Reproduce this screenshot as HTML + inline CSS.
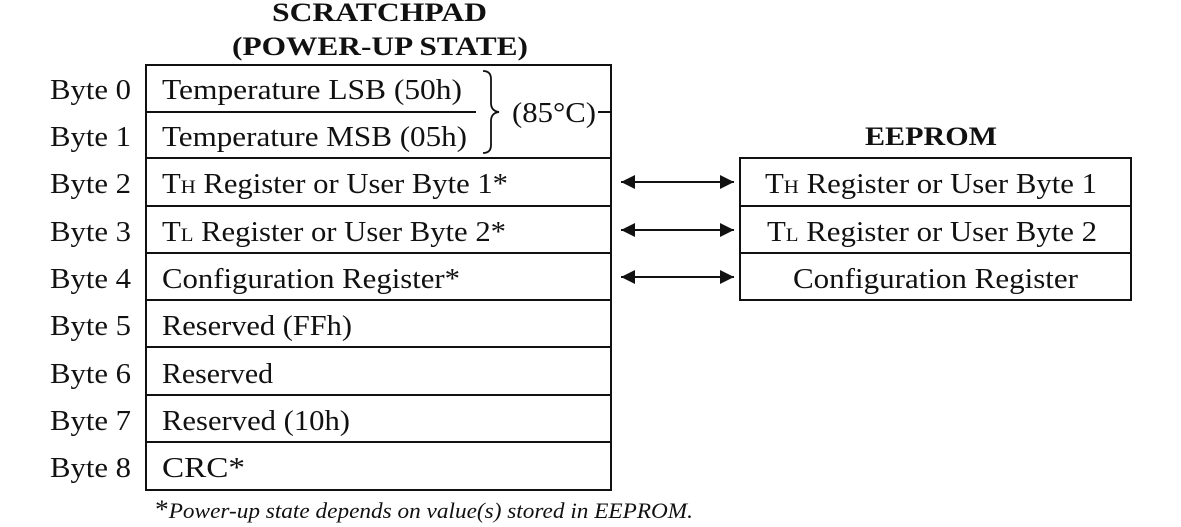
<!DOCTYPE html>
<html><head><meta charset="utf-8"><style>
html,body{margin:0;padding:0;background:#fff}
svg{display:block}
text{font-family:"Liberation Serif",serif;fill:#111}
</style></head><body>
<svg width="1181" height="527" viewBox="0 0 1181 527">
<defs><marker id="ah" viewBox="0 0 10 10" refX="10" refY="5" markerWidth="7" markerHeight="7" orient="auto-start-reverse"><path d="M0,0 L10,5 L0,10 z" fill="#111"/></marker></defs>
<g font-size="26">
<text x="272" y="21" font-weight="bold" textLength="215" lengthAdjust="spacingAndGlyphs">SCRATCHPAD</text>
<text x="232" y="55" font-weight="bold" textLength="296" lengthAdjust="spacingAndGlyphs">(POWER-UP STATE)</text>
</g>
<g stroke="#111" stroke-width="2" fill="none">
<rect x="146" y="65" width="465" height="425"/>
<line x1="146" y1="112" x2="476" y2="112"/>
<line x1="146" y1="158" x2="611" y2="158"/>
<line x1="146" y1="206" x2="611" y2="206"/>
<line x1="146" y1="253" x2="611" y2="253"/>
<line x1="146" y1="300" x2="611" y2="300"/>
<line x1="146" y1="347" x2="611" y2="347"/>
<line x1="146" y1="395" x2="611" y2="395"/>
<line x1="146" y1="442" x2="611" y2="442"/>
<line x1="598" y1="112" x2="611" y2="112"/>
<path d="M483,71 q8,0 8,8 v24 q0,8 8,9 q-8,1 -8,9 v24 q0,8 -8,8" stroke-width="1.8"/>
</g>
<g font-size="28">
<text x="50" y="99" textLength="81" lengthAdjust="spacingAndGlyphs">Byte 0</text>
<text x="50" y="146" textLength="81" lengthAdjust="spacingAndGlyphs">Byte 1</text>
<text x="50" y="193" textLength="81" lengthAdjust="spacingAndGlyphs">Byte 2</text>
<text x="50" y="241" textLength="81" lengthAdjust="spacingAndGlyphs">Byte 3</text>
<text x="50" y="288" textLength="81" lengthAdjust="spacingAndGlyphs">Byte 4</text>
<text x="50" y="335" textLength="81" lengthAdjust="spacingAndGlyphs">Byte 5</text>
<text x="50" y="383" textLength="81" lengthAdjust="spacingAndGlyphs">Byte 6</text>
<text x="50" y="430" textLength="81" lengthAdjust="spacingAndGlyphs">Byte 7</text>
<text x="50" y="477" textLength="81" lengthAdjust="spacingAndGlyphs">Byte 8</text>
</g>
<g font-size="28">
<text x="162" y="99" textLength="300" lengthAdjust="spacingAndGlyphs">Temperature LSB (50h)</text>
<text x="162" y="146" textLength="305" lengthAdjust="spacingAndGlyphs">Temperature MSB (05h)</text>
<text x="512" y="122" textLength="84" lengthAdjust="spacingAndGlyphs">(85°C)</text>
<text x="162" y="193" textLength="346" lengthAdjust="spacingAndGlyphs">T<tspan font-size="19">H</tspan> Register or User Byte 1*</text>
<text x="162" y="241" textLength="344" lengthAdjust="spacingAndGlyphs">T<tspan font-size="19">L</tspan> Register or User Byte 2*</text>
<text x="162" y="288" textLength="298" lengthAdjust="spacingAndGlyphs">Configuration Register*</text>
<text x="162" y="335" textLength="190" lengthAdjust="spacingAndGlyphs">Reserved (FFh)</text>
<text x="162" y="383" textLength="111" lengthAdjust="spacingAndGlyphs">Reserved</text>
<text x="162" y="430" textLength="188" lengthAdjust="spacingAndGlyphs">Reserved (10h)</text>
<text x="162" y="477" textLength="83" lengthAdjust="spacingAndGlyphs">CRC*</text>
</g>
<g stroke="#111" stroke-width="2">
<line x1="621" y1="182" x2="734" y2="182" marker-start="url(#ah)" marker-end="url(#ah)"/>
<line x1="621" y1="230" x2="734" y2="230" marker-start="url(#ah)" marker-end="url(#ah)"/>
<line x1="621" y1="277" x2="734" y2="277" marker-start="url(#ah)" marker-end="url(#ah)"/>
</g>
<text x="865" y="145" font-size="26" font-weight="bold" textLength="132" lengthAdjust="spacingAndGlyphs">EEPROM</text>
<g stroke="#111" stroke-width="2" fill="none">
<rect x="740" y="158" width="391" height="142"/>
<line x1="740" y1="206" x2="1131" y2="206"/>
<line x1="740" y1="253" x2="1131" y2="253"/>
</g>
<g font-size="28">
<text x="765" y="193" textLength="332" lengthAdjust="spacingAndGlyphs">T<tspan font-size="19">H</tspan> Register or User Byte 1</text>
<text x="767" y="241" textLength="330" lengthAdjust="spacingAndGlyphs">T<tspan font-size="19">L</tspan> Register or User Byte 2</text>
<text x="793" y="288" textLength="285" lengthAdjust="spacingAndGlyphs">Configuration Register</text>
</g>
<text x="155" y="518" font-size="22" font-style="italic" textLength="538" lengthAdjust="spacingAndGlyphs"><tspan font-style="normal" font-size="26">*</tspan>Power-up state depends on value(s) stored in EEPROM.</text>
</svg>
</body></html>
